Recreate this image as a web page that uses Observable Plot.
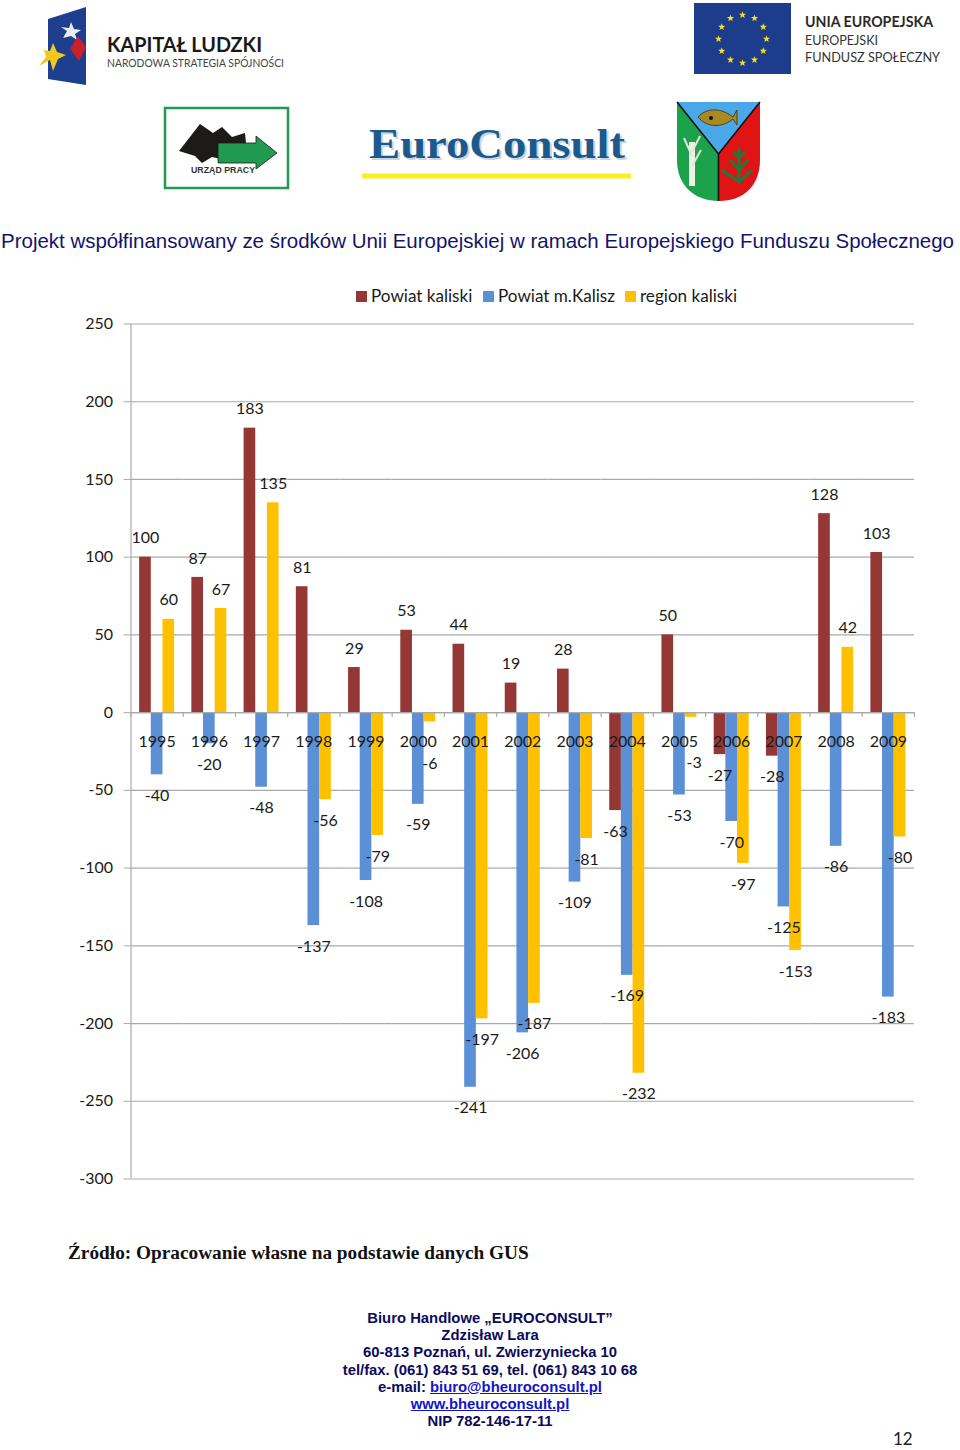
<!DOCTYPE html>
<html lang="pl">
<head>
<meta charset="utf-8">
<script src="https://cdn.jsdelivr.net/npm/d3@7"></script>
<script src="https://cdn.jsdelivr.net/npm/@observablehq/plot@0.6"></script>
<style>
  html, body { margin: 0; padding: 0; background: #fff; }
  #page { position: relative; width: 960px; height: 1450px; overflow: hidden; background: #fff; }
  #logos { position: absolute; left: 0; top: 0; }
  #project { position: absolute; left: 1px; top: 229px; width: 958px; white-space: nowrap;
    font: 20.49px "Liberation Sans", sans-serif; color: #14146b; }
  #legend { position: absolute; left: 0; top: 286px; height: 20px; width: 960px;
    font: 17.1px Lato, sans-serif; color: #1a1a1a; }
  #legend span { position: absolute; top: 0; white-space: nowrap; line-height: 20px; }
  #legend i { position: absolute; top: 5px; width: 11px; height: 11px; }
  #chart { position: absolute; left: 0; top: 300px; }
  #source { position: absolute; left: 68px; top: 1242px; white-space: nowrap;
    font: bold 19.3px "Liberation Serif", serif; color: #111; }
  #address { position: absolute; left: 190px; width: 600px; top: 1310px; text-align: center;
    font: bold 14.85px/17.2px "Liberation Sans", sans-serif; color: #0b0b5c; }
  #address a { color: #1414c8; text-decoration: underline; }
  #pageno { position: absolute; left: 893px; top: 1429px; font: 17px/20px Lato, sans-serif; color: #222; }
</style>
</head>
<body>
<div id="page">
  <svg id="logos" width="960" height="225" xmlns="http://www.w3.org/2000/svg">
    <!-- Kapitał Ludzki -->
    <polygon points="48,19 86,7 86,85 48,79" fill="#1d3f8e"/>
    <polygon points="71,22 74,29 81,30 75,34 77,40 71,36 63,38 67,31 61,27 69,28" fill="#e8ecf2"/>
    <polygon points="78,36 86,47 79,61 70,49" fill="#c8202c"/>
    <polygon points="53,43 57,52 66,55 58,59 53,71 50,60 39,66 46,57 44,50 50,51" fill="#f2c81e"/>
    <text x="107" y="52" font-family="Lato" font-weight="700" font-size="21" fill="#1a1a1a" textLength="155" lengthAdjust="spacingAndGlyphs">KAPITAŁ LUDZKI</text>
    <text x="107" y="67" font-family="Lato" font-size="10.5" fill="#444" textLength="177" lengthAdjust="spacingAndGlyphs">NARODOWA STRATEGIA SPÓJNOŚCI</text>
    <!-- Unia Europejska -->
    <rect x="694" y="3" width="97" height="71" fill="#1d3c8c"/>
    <g id="euStars" fill="#f5e020"></g>
    <text x="805" y="27" font-family="Lato" font-weight="700" font-size="16" fill="#2a2a2a" textLength="128" lengthAdjust="spacingAndGlyphs">UNIA EUROPEJSKA</text>
    <text x="805" y="45" font-family="Lato" font-size="14" fill="#333" textLength="73" lengthAdjust="spacingAndGlyphs">EUROPEJSKI</text>
    <text x="805" y="62" font-family="Lato" font-size="14" fill="#333" textLength="135" lengthAdjust="spacingAndGlyphs">FUNDUSZ SPOŁECZNY</text>
    <!-- Urząd pracy -->
    <rect x="165" y="108" width="123" height="80" fill="#fff" stroke="#1f9a50" stroke-width="2.5"/>
    <polygon points="179,151 200,124 213,133 222,127 232,137 245,133 246,143 226,160 212,157 202,163 195,156" fill="#1e1a18"/>
    <polygon points="218,143 256,143 256,136 277,153 256,169 256,163 218,163" fill="#1f9a50" stroke="#1e1a18" stroke-width="0.8"/>
    <text x="223" y="173" text-anchor="middle" font-family="Liberation Sans" font-weight="700" font-size="8.8" fill="#333">URZĄD PRACY</text>
    <!-- EuroConsult -->
    <text x="371" y="160" font-family="Liberation Serif" font-weight="700" font-size="43" fill="#c9d5e0" textLength="256" lengthAdjust="spacingAndGlyphs">EuroConsult</text>
    <text x="369" y="158" font-family="Liberation Serif" font-weight="700" font-size="43" fill="#1c5a8c" textLength="256" lengthAdjust="spacingAndGlyphs">EuroConsult</text>
    <rect x="362" y="173.500" width="269" height="5" fill="#f8f020"/>
    <!-- Herb -->
    <path d="M677,102 H719 V201 C695,201 677,186 677,160 Z" fill="#1ba24a"/>
    <path d="M719,102 H760 V160 C760,186 743,201 719,201 Z" fill="#e01414"/>
    <polygon points="677,102 760,102 718.500,154" fill="#4aa8e8"/>
    <path d="M677,102 L718.500,154 L760,102 M718.500,154 V201" fill="none" stroke="#111" stroke-width="1.6"/>
    <path d="M698,117 C707,107 722,108 733,117 L737,110 V125 L733,119 C722,128 707,128 698,117 Z" fill="#a88a20" stroke="#3a3010" stroke-width="0.8"/>
    <circle cx="711" cy="118" r="2" fill="#111"/>
    <path d="M692,186 V142" stroke="#eef2e8" stroke-width="6" fill="none"/>
    <path d="M692,156 L684,138 M692,152 L700,136 M692,166 L701,150" stroke="#dfe8d8" stroke-width="2" fill="none"/>
    <path d="M739,184 V148 M739,182 L722,170 M739,182 L752,170 M739,170 L730,160 M739,170 L748,160 M739,158 L733,152 M739,158 L745,152" stroke="#1c7a3a" stroke-width="3" fill="none"/>
  </svg>

  <div id="project">Projekt współfinansowany ze środków Unii Europejskiej w ramach Europejskiego Funduszu Społecznego</div>
  <div id="legend"></div>
  <div id="chart"></div>
  <div id="source">Źródło: Opracowanie własne na podstawie danych GUS</div>
  <div id="address">
    Biuro Handlowe „EUROCONSULT”<br>
    Zdzisław Lara<br>
    60-813 Poznań, ul. Zwierzyniecka 10<br>
    tel/fax. (061) 843 51 69, tel. (061) 843 10 68<br>
    e-mail: <a href="#">biuro@bheuroconsult.pl</a><br>
    <a href="#">www.bheuroconsult.pl</a><br>
    NIP 782-146-17-11
  </div>
  <div id="pageno">12</div>
</div>

<script>
const years = ["1995","1996","1997","1998","1999","2000","2001","2002","2003","2004","2005","2006","2007","2008","2009"];
const seriesNames = ["Powiat kaliski", "Powiat m.Kalisz", "region kaliski"];
const seriesColors = ["#953735", "#5b8fd6", "#ffc000"];
const powiatKaliski = [100, 87, 183, 81, 29, 53, 44, 19, 28, -63, 50, -27, -28, 128, 103];
const powiatKalisz = [-40, -20, -48, -137, -108, -59, -241, -206, -109, -169, -53, -70, -125, -86, -183];
const regionKaliski = [60, 67, 135, -56, -79, -6, -197, -187, -81, -232, -3, -97, -153, 42, -80];
const yTicks = [250, 200, 150, 100, 50, 0, -50, -100, -150, -200, -250, -300];

const rows = [];
[powiatKaliski, powiatKalisz, regionKaliski].forEach((values, s) => {
  values.forEach((value, i) => rows.push({ year: years[i], series: seriesNames[s], value }));
});

// EU flag stars
const starsG = document.getElementById("euStars");
let starPath = "";
for (let k = 0; k < 12; k++) {
  const a = k * Math.PI / 6, cx = 742.500 + 24 * Math.sin(a), cy = 39 - 24 * Math.cos(a);
  const pts = [];
  for (let j = 0; j < 10; j++) {
    const r = j % 2 ? 1.6 : 3.8, b = j * Math.PI / 5;
    pts.push((cx + r * Math.sin(b)).toFixed(1) + "," + (cy - r * Math.cos(b)).toFixed(1));
  }
  starPath += '<polygon points="' + pts.join(" ") + '"/>';
}
starsG.innerHTML = starPath;

// Legend
const legendPos = [[356, 371], [483, 498], [625, 640]];
const legend = document.getElementById("legend");
seriesNames.forEach((name, i) => {
  const sw = document.createElement("i");
  sw.style.left = legendPos[i][0] + "px";
  sw.style.background = seriesColors[i];
  legend.appendChild(sw);
  const t = document.createElement("span");
  t.style.left = legendPos[i][1] + "px";
  t.textContent = name;
  legend.appendChild(t);
});

const labelStyle = { fontSize: 16, fill: "#1a1a1a", fontFamily: "Lato, sans-serif" };
const halfStep = (914 - 130.5) / years.length / 2;

const chart = Plot.plot({
  width: 960,
  height: 900,
  marginTop: 23.5,
  marginBottom: 21.5,
  marginLeft: 130.5,
  marginRight: 46,
  style: { background: "transparent", fontFamily: "Lato, sans-serif", overflow: "visible" },
  fx: { domain: years, padding: 0, round: false, axis: null, label: null },
  x: { domain: seriesNames, paddingInner: 0, paddingOuter: 0.74, round: false, axis: null, label: null },
  y: { domain: [-300, 250], label: null, axis: null },
  color: { domain: seriesNames, range: seriesColors },
  marks: [
    Plot.ruleY(yTicks, { stroke: "#a9a9a9", strokeWidth: 1.2, strokeOpacity: 1 }),
    Plot.barY(rows, { fx: "year", x: "series", y1: 0, y2: "value", fill: "series" }),
    Plot.ruleY([0], { stroke: "#a9a9a9", strokeWidth: 1.2 }),
    Plot.ruleX(years, { fx: d => d, x: () => seriesNames[1], y1: 0, y2: -3.2, dx: -halfStep, stroke: "#a9a9a9", strokeWidth: 1.2 }),
    Plot.ruleX(years.slice(-1), { fx: d => d, x: () => seriesNames[1], y1: 0, y2: -3.2, dx: halfStep, stroke: "#a9a9a9", strokeWidth: 1.2 }),
    Plot.axisY({ anchor: "left", ticks: yTicks, tickSize: 7, tickPadding: 11, tickFormat: d => String(d), label: null, fontSize: 16, stroke: "#a9a9a9", color: "#1a1a1a" }),
    Plot.ruleX(years.slice(0, 1), { fx: d => d, x: () => seriesNames[1], y1: -300, y2: 250, dx: -halfStep, stroke: "#a9a9a9", strokeWidth: 1.2 }),
    Plot.text(years, { fx: d => d, y: () => 0, text: d => d, dy: 29, ...labelStyle }),
    Plot.text(rows.filter(d => d.value > 0), { fx: "year", x: "series", y: "value", text: d => String(d.value), dy: -19, ...labelStyle }),
    Plot.text(rows.filter(d => d.value <= -10), { fx: "year", x: "series", y: "value", text: d => String(d.value), dy: 21, ...labelStyle }),
    Plot.text(rows.filter(d => d.value === -6), { fx: "year", x: "series", y: "value", text: d => String(d.value), dy: 42, ...labelStyle }),
    Plot.text(rows.filter(d => d.value === -3), { fx: "year", x: "series", y: "value", text: d => String(d.value), dy: 46, dx: 3, ...labelStyle })
  ]
});
document.getElementById("chart").appendChild(chart);
</script>
</body>
</html>
